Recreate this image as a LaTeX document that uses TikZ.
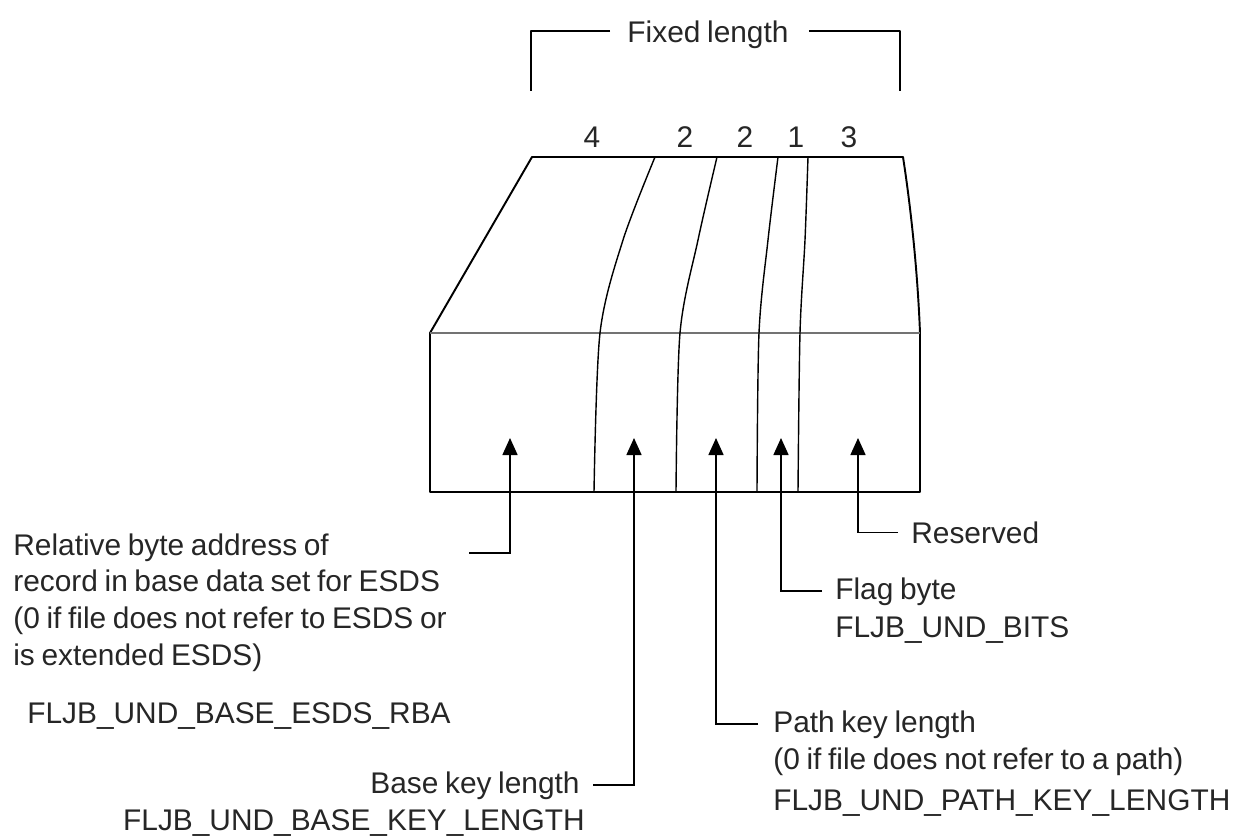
\documentclass[tikz,border=0pt]{standalone}
\usepackage{fontspec}
\setmainfont{Liberation Sans}[WordSpace=0.8]
\usetikzlibrary{arrows.meta, positioning}

\begin{document}
\begin{tikzpicture}[x=0.02cm, y=-0.02cm,
    every node/.style={font=\fontsize{17}{20.8}\selectfont, text=black!85, inner sep=0pt},
    edge/.style={line width=1.1pt, line join=round},
    divider/.style={line width=0.8pt},
    pointer/.style={line width=0.9pt, -{Triangle[length=0.34cm, width=0.3cm]}}]
    \useasboundingbox (0,0) rectangle (1255,836);

    % header with bracket
    \node[anchor=base] (fixed) at (708,42) {Fixed length};
    \draw[edge] ([xshift=-0.34cm]fixed.west |- 0,31) -| (531,91);
    \draw[edge] ([xshift=0.4cm]fixed.east |- 0,31) -| (900,91);
    \foreach \n/\x [count=\i] in {4/592,2/685,2/745,1/796,3/849}
        \node[anchor=base] (num\i) at (\x,147) {\n};

    % record box
    \draw[edge] (430,492) -- (430,333) -- (532,157) -- (903,157)
        .. controls (912,215) and (918,280) .. (920,333) -- (920,492) -- cycle;
    \draw[line width=1pt, black!55] (430,333) -- (920,333);
    \foreach \a/\b/\c/\d in {655/623/600/594, 717/698/680/676, 778/768/759/757, 808/805/800/798}
        \draw[divider] plot[smooth] coordinates {(\a,157) (\b,240) (\c,333) (\d,492)};
    \foreach \name/\x in {rba/510, base/634, path/716, flag/781, rsv/858}
        \coordinate (\name) at (\x,438);

    % labels
    \node[anchor=base west, align=left] (rbaText) at (13,665)
        {Relative byte address of\\record in base data set for ESDS\\(0 if file does not refer to ESDS or\\is extended ESDS)};
    \node[anchor=base west] (rbaName) at (27,723) {FLJB\_UND\_BASE\_ESDS\_RBA};
    \coordinate (rbaEnd) at (469,553);
    \draw[pointer] (rbaEnd) -| (rba);

    \node[anchor=base east] (baseText) at (580,793) {Base key length};
    \node[anchor=base east] (baseName) at (585,830) {FLJB\_UND\_BASE\_KEY\_LENGTH};
    \draw[pointer] ([xshift=0.26cm]baseText.east) -| (base);

    \node[anchor=base west] (pathText) at (773,732) {Path key length};
    \node[anchor=base west] (pathNote) at (773,769) {(0 if file does not refer to a path)};
    \node[anchor=base west] (pathName) at (773,810) {FLJB\_UND\_PATH\_KEY\_LENGTH};
    \draw[pointer] ([xshift=-0.3cm]pathText.west) -| (path);

    \node[anchor=base west] (flagText) at (835,599) {Flag byte};
    \node[anchor=base west] (flagName) at (835,637) {FLJB\_UND\_BITS};
    \draw[pointer] ([xshift=-0.26cm]flagText.west) -| (flag);

    \node[anchor=base west] (rsvText) at (911,543) {Reserved};
    \draw[pointer] ([xshift=-0.26cm]rsvText.west) -| (rsv);
\end{tikzpicture}
\end{document}
